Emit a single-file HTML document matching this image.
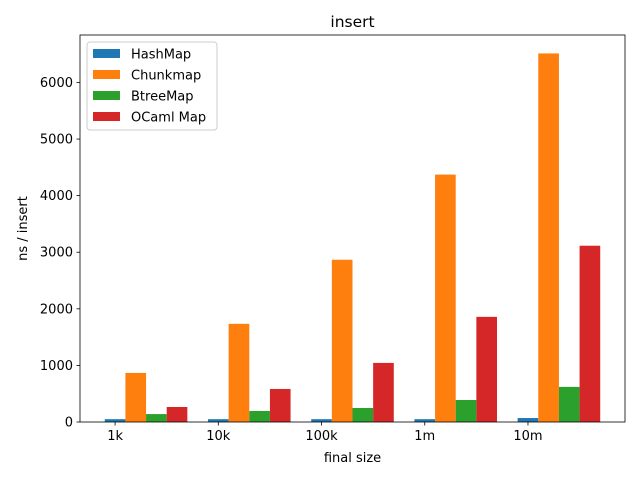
<!DOCTYPE html>
<html><head><meta charset="utf-8"><style>
body{margin:0;background:#fff;font-family:"Liberation Sans","DejaVu Sans",sans-serif;}
svg text{font-family:"DejaVu Sans","Liberation Sans",sans-serif;fill:#000}
</style></head><body>
<svg id="c" width="640" height="480" xmlns="http://www.w3.org/2000/svg"></svg>
<script>
const categories=["1k","10k","100k","1m","10m"];
const seriesNames=["HashMap","Chunkmap","BtreeMap","OCaml Map"];
const hashMap=[50,50,50,50,70];
const chunkmap=[867,1735,2867,4372,6513];
const btreeMap=[140,195,248,389,620];
const ocamlMap=[265,584,1044,1858,3115];
const yTicks=[0,1000,2000,3000,4000,5000,6000];
const colors=["#1f77b4","#ff7f0e","#2ca02c","#d62728"];
const series=[hashMap,chunkmap,btreeMap,ocamlMap];
const L=80,R=625,T=35,B=422,bw=0.2;
const n=categories.length;
const allMax=Math.max(...series.flat());
const yMax=allMax*1.05;
const xMin=-bw/2-0.05*(n-1+bw*4), xMax=(n-1)+bw*3.5+0.05*(n-1+bw*4);
const X=v=>L+(v-xMin)/(xMax-xMin)*(R-L);
const Y=v=>B-v/yMax*(B-T);
const svg=document.getElementById('c');
const NS="http://www.w3.org/2000/svg";
function mk(t,a,p){const e=document.createElementNS(NS,t);for(const k in a)e.setAttribute(k,a[k]);(p||svg).appendChild(e);return e;}
series.forEach((s,si)=>{s.forEach((v,i)=>{
 const x0=X(i+si*bw-bw/2),x1=X(i+si*bw+bw/2);
 const r=mk('rect',{x:x0,y:Y(v),width:x1-x0,height:B-Y(v),fill:colors[si]});
 
 
});});
const ax=mk('rect',{x:L,y:T,width:R-L,height:B-T,fill:'none',stroke:'#000','stroke-width':0.8});


categories.forEach((c,i)=>{
 const x=X(i);
 mk('line',{x1:x,x2:x,y1:B,y2:B+3.5,stroke:'#000','stroke-width':0.8});
 const t=mk('text',{x:x,y:B+18,'text-anchor':'middle','font-size':13});
 t.textContent=c;
 
 
});
yTicks.forEach(v=>{
 const y=Y(v);
 mk('line',{x1:L-3.5,x2:L,y1:y,y2:y,stroke:'#000','stroke-width':0.8});
 const t=mk('text',{x:L-7,y:y+4.5,'text-anchor':'end','font-size':13});
 t.textContent=v;
 
 
});
let t=mk('text',{x:(L+R)/2,y:462,'text-anchor':'middle','font-size':13});t.textContent='final size';


t=mk('text',{x:0,y:0,'text-anchor':'middle','font-size':13,transform:`translate(27,${(T+B)/2}) rotate(-90)`});t.textContent='ns / insert';


t=mk('text',{x:(L+R)/2,y:27,'text-anchor':'middle','font-size':15.5});t.textContent='insert';


const lg=mk('g',{});


mk('rect',{x:87,y:42,width:130,height:88,rx:3,fill:'#fff','fill-opacity':0.8,stroke:'#ccc','stroke-width':1},lg);
seriesNames.forEach((nm,i)=>{
 const y=49+i*21;
 mk('rect',{x:93,y:y,width:27,height:9,fill:colors[i]},lg);
 const tt=mk('text',{x:131,y:y+9.5,'font-size':13},lg);tt.textContent=nm;
 
 
});
</script>
</body></html>
